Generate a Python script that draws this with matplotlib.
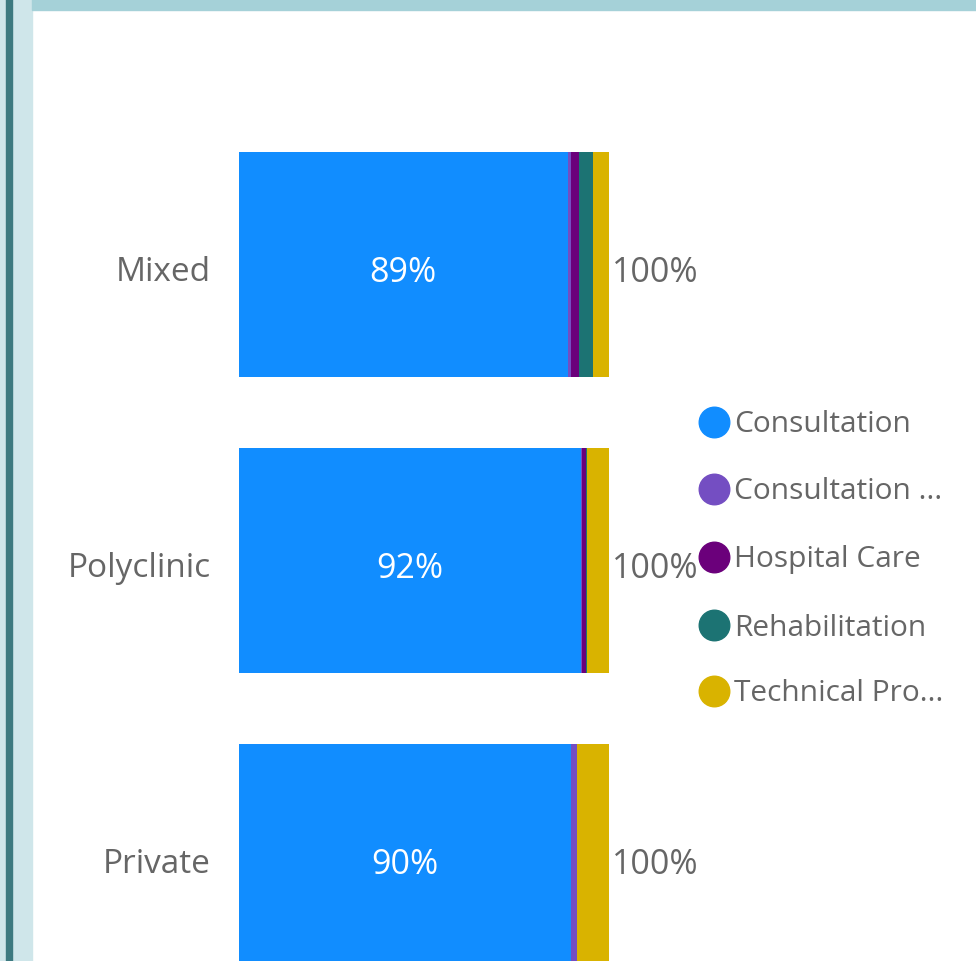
import numpy as np
import matplotlib
matplotlib.use('Agg')
import matplotlib.pyplot as plt
from matplotlib.lines import Line2D
from matplotlib.patches import Rectangle

plt.rcParams['font.family'] = ['Open Sans', 'DejaVu Sans']

# data (share of each service type, percent)
categories = ['Mixed', 'Polyclinic', 'Private']
series = ['Consultation', 'Consultation ...', 'Hospital Care', 'Rehabilitation', 'Technical Pro...']
consultation = [88.8, 92.4, 89.7]
consultation_other = [0.9, 0.3, 1.6]
hospital_care = [2.2, 1.1, 0.0]
rehabilitation = [3.8, 0.3, 0.0]
technical = [4.3, 5.9, 8.7]
totals = ['100%', '100%', '100%']

colors = ['#118DFF', '#744EC2', '#6B007B', '#1C7373', '#D9B300']
values = [consultation, consultation_other, hospital_care, rehabilitation, technical]

W, H = 976, 962
fig = plt.figure(figsize=(W / 100, H / 100), dpi=100)

# frame decorations (light teal border + top strip)
fig.add_artist(Rectangle((0, 0), 32 / W, 1, transform=fig.transFigure, color='#CFE6EA', zorder=0))
fig.add_artist(Rectangle((6 / W, 0), 6 / W, 1, transform=fig.transFigure, color='#3D7A80', zorder=1))
fig.add_artist(Rectangle((32 / W, 1 - 11 / H), 1, 11 / H, transform=fig.transFigure, color='#A5D1D8', zorder=1))

# axes: x from 239px to 609px is 0..100 %
ax = fig.add_axes([239 / W, 0, 370 / W, 1])
ax.set_xlim(0, 100)
top_px, pitch = 265.5, 296.0
ax.set_ylim((H - top_px) / pitch, -top_px / pitch)
ax.axis('off')

y = np.arange(len(categories))
left = np.zeros(len(categories))
for vals, col in zip(values, colors):
    ax.barh(y, vals, left=left, height=225 / pitch, color=col, edgecolor='none')
    left += np.array(vals)

# labels sit a few pixels below the bar centre
dy = 7 / pitch
for i, cat in enumerate(categories):
    ax.text(-7.6, i + dy, cat, ha='right', va='center', fontsize=24, color='#666666', clip_on=False)
    ax.text(consultation[i] / 2, i + dy, f'{round(consultation[i])}%', ha='center', va='center',
            fontsize=24.5, color='white')
    ax.text(100.8, i + dy, totals[i], ha='left', va='center', fontsize=24.5, color='#666666', clip_on=False)

# legend
leg_y = [423, 490, 558, 626, 692]
for name, col, ly in zip(series, colors, leg_y):
    fig.add_artist(Line2D([714 / W], [1 - ly / H], transform=fig.transFigure, marker='o',
                          markersize=22, color=col, linestyle='none'))
    fig.text(734 / W, 1 - (ly + 2) / H, name, ha='left', va='center', fontsize=21.5, color='#666666')

fig.savefig('out.png', dpi=100)
